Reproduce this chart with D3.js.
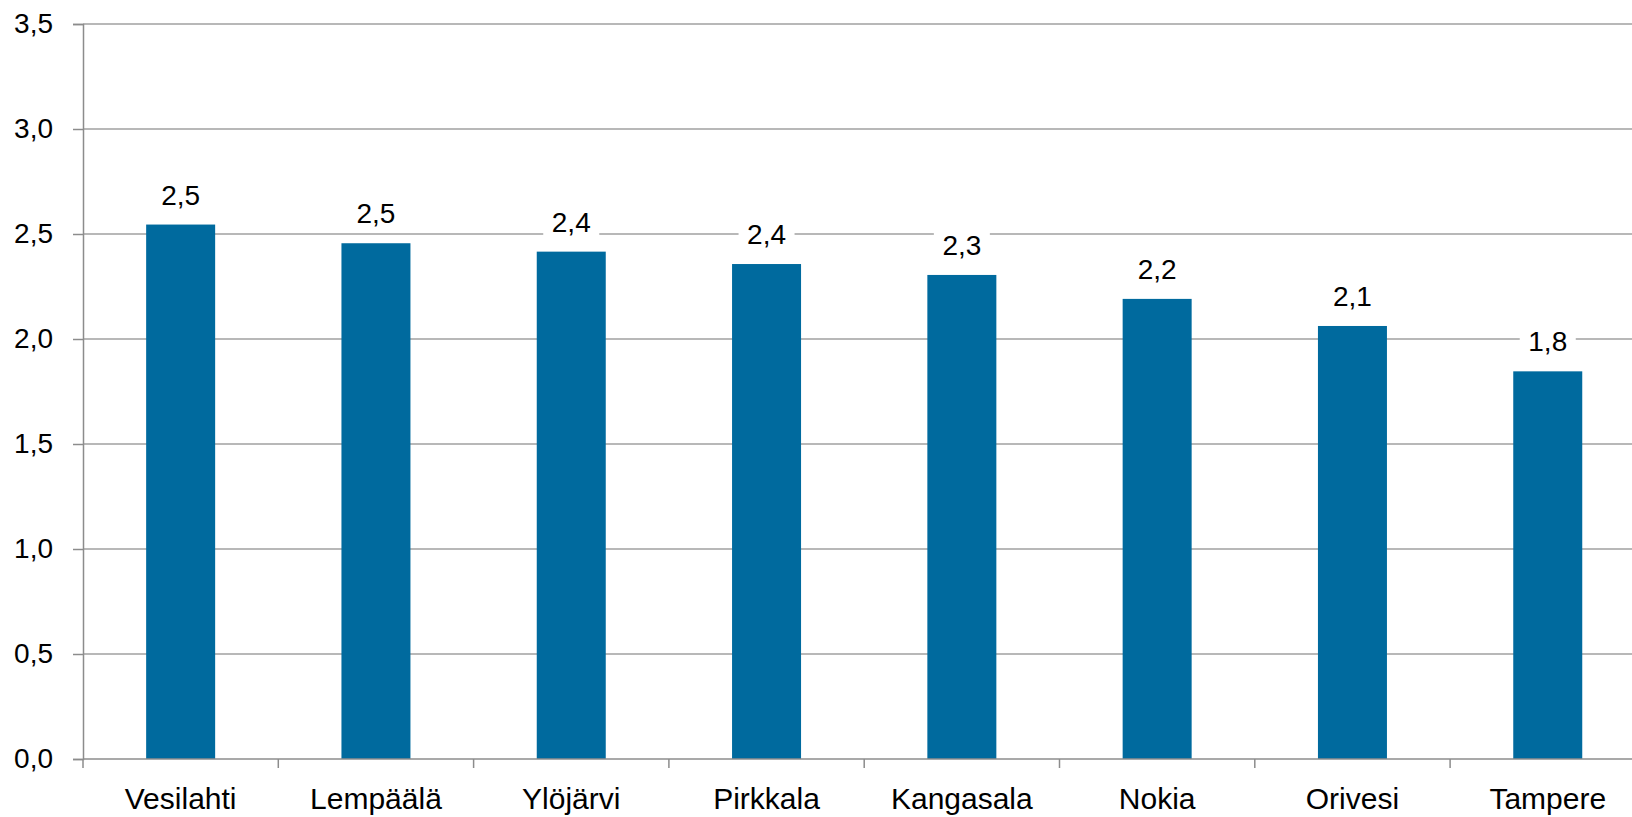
<html>
<head>
<meta charset="utf-8">
<script src="https://d3js.org/d3.v7.min.js"></script>
<style>
  body { margin: 0; background: #ffffff; }
  svg text { font-family: "Liberation Sans", Arial, sans-serif; fill: #000; }
</style>
</head>
<body>
<div id="chart"></div>
<script>
// data
const categories = ["Vesilahti", "Lempäälä", "Ylöjärvi", "Pirkkala", "Kangasala", "Nokia", "Orivesi", "Tampere"]
const values = [2.545, 2.456, 2.416, 2.357, 2.305, 2.191, 2.062, 1.846]
const yTicks = [0, 0.5, 1.0, 1.5, 2.0, 2.5, 3.0, 3.5]

const width = 1632
const height = 817
const plotLeft = 83, plotTop = 24, plotBottom = 759
const bandW = 195.3
const barW = 69

const fmt = v => d3.format(".1f")(v).replace(".", ",")

const svg = d3.select("#chart").append("svg")
    .attr("width", width)
    .attr("height", height)

const x = d3.scaleBand()
    .domain(categories)
    .range([plotLeft, plotLeft + bandW * categories.length])
    .padding(0)

const y = d3.scaleLinear()
    .domain([0, 3.5])
    .range([plotBottom, plotTop])

// gridlines
svg.append("g")
    .selectAll("line")
    .data(yTicks.filter(d => d > 0))
    .join("line")
    .attr("x1", plotLeft)
    .attr("x2", width)
    .attr("y1", d => y(d))
    .attr("y2", d => y(d))
    .attr("stroke", "#a0a0a0")
    .attr("stroke-width", 1.5)

// y axis
const yAxis = svg.append("g")
    .attr("transform", `translate(${plotLeft},0)`)
    .call(d3.axisLeft(y).tickValues(yTicks).tickSize(10).tickPadding(20).tickFormat(fmt))
yAxis.select(".domain").attr("stroke", "#8c8c8c").attr("stroke-width", 1.5)
yAxis.selectAll(".tick line").attr("stroke", "#8c8c8c").attr("stroke-width", 1.5)
yAxis.selectAll("text").attr("font-size", 28).attr("fill", "#000")
    .style("font-family", '"Liberation Sans", Arial, sans-serif')

// bars
svg.append("g")
    .selectAll("rect")
    .data(values)
    .join("rect")
    .attr("x", (d, i) => x(categories[i]) + x.bandwidth() / 2 - barW / 2)
    .attr("width", barW)
    .attr("y", d => y(d))
    .attr("height", d => y(0) - y(d))
    .attr("fill", "#006a9e")

// x axis
const xTicks = d3.range(categories.length + 1).map(i => plotLeft + i * bandW)
svg.append("line")
    .attr("x1", plotLeft).attr("x2", width)
    .attr("y1", y(0)).attr("y2", y(0))
    .attr("stroke", "#8c8c8c").attr("stroke-width", 1.5)
svg.append("g")
    .selectAll("line")
    .data(xTicks)
    .join("line")
    .attr("x1", d => d).attr("x2", d => d)
    .attr("y1", y(0)).attr("y2", y(0) + 9)
    .attr("stroke", "#8c8c8c").attr("stroke-width", 1.5)
svg.append("g")
    .selectAll("text")
    .data(categories)
    .join("text")
    .attr("x", d => x(d) + x.bandwidth() / 2)
    .attr("y", 809)
    .attr("text-anchor", "middle")
    .attr("font-size", 30)
    .text(d => d)

// value labels with white boxes over gridlines
const lab = svg.append("g")
    .selectAll("g")
    .data(values)
    .join("g")
    .attr("transform", (d, i) => `translate(${x(categories[i]) + x.bandwidth() / 2},${y(d) - 20})`)
lab.append("rect")
    .attr("x", -28).attr("width", 56)
    .attr("y", -26).attr("height", 32)
    .attr("fill", "#fff")
lab.append("text")
    .attr("text-anchor", "middle")
    .attr("font-size", 28)
    .text(d => fmt(d))
</script>
</body>
</html>
